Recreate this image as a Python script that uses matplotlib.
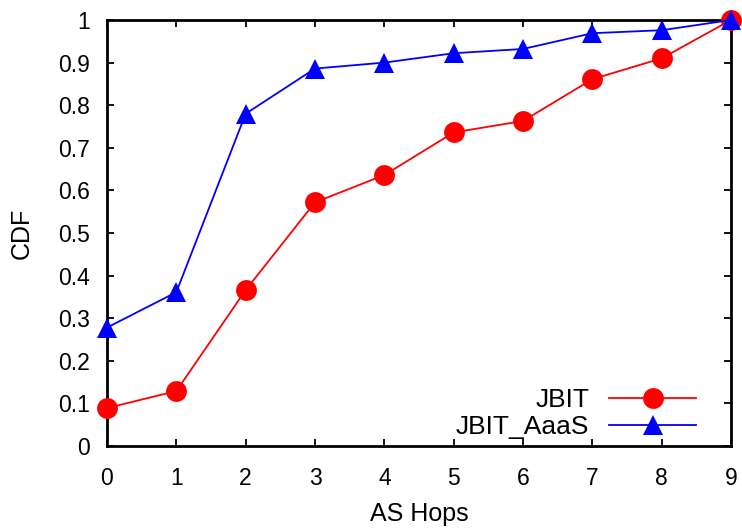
import numpy as np
import matplotlib
matplotlib.use("Agg")
import matplotlib.pyplot as plt

plt.rcParams['font.family'] = ['Liberation Sans', 'DejaVu Sans']

hops = [0, 1, 2, 3, 4, 5, 6, 7, 8, 9]
jbit = [0.089, 0.129, 0.366, 0.572, 0.636, 0.736, 0.763, 0.861, 0.910, 1.0]
jbit_aaas = [0.278, 0.361, 0.780, 0.886, 0.900, 0.922, 0.932, 0.969, 0.976, 1.0]
yticks = [0, 0.1, 0.2, 0.3, 0.4, 0.5, 0.6, 0.7, 0.8, 0.9, 1]
ytick_labels = ['0', '0.1', '0.2', '0.3', '0.4', '0.5', '0.6', '0.7', '0.8', '0.9', '1']

fig = plt.figure(figsize=(7.42, 5.29), dpi=100)
ax = fig.add_axes([0.1442, 0.1569, 0.841, 0.8053])

ax.plot(hops, jbit, color='#ff0000', lw=1.3, marker='o', ms=15,
        markeredgewidth=0, label='JBIT', clip_on=False, zorder=3)
ax.plot(hops, jbit_aaas, color='#0000ff', lw=1.3, marker='^', ms=14,
        markeredgewidth=0, label='JBIT_AaaS', clip_on=False, zorder=4)

ax.set_xlim(0, 9)
ax.set_ylim(0, 1)
ax.set_xticks(hops)
ax.set_yticks(yticks)
ax.set_yticklabels(ytick_labels)
ax.tick_params(direction='in', length=5, width=1.3, top=True, right=True,
               labelsize=16.5, colors='black')
ax.tick_params(axis='x', pad=15)
ax.tick_params(axis='y', pad=12)
for s in ax.spines.values():
    s.set_linewidth(2)

ax.set_xlabel('AS Hops', fontsize=18, labelpad=9)
ax.set_ylabel('CDF', fontsize=18, labelpad=18)

leg = ax.legend(loc='lower right', frameon=False, markerfirst=False,
                fontsize=19, handlelength=3.3, labelspacing=0.1,
                handletextpad=0.75, borderaxespad=0.0,
                bbox_to_anchor=(0.961, -0.008))
for t in leg.get_texts():
    t.set_ha('right')

fig.savefig('out.png', dpi=100)
